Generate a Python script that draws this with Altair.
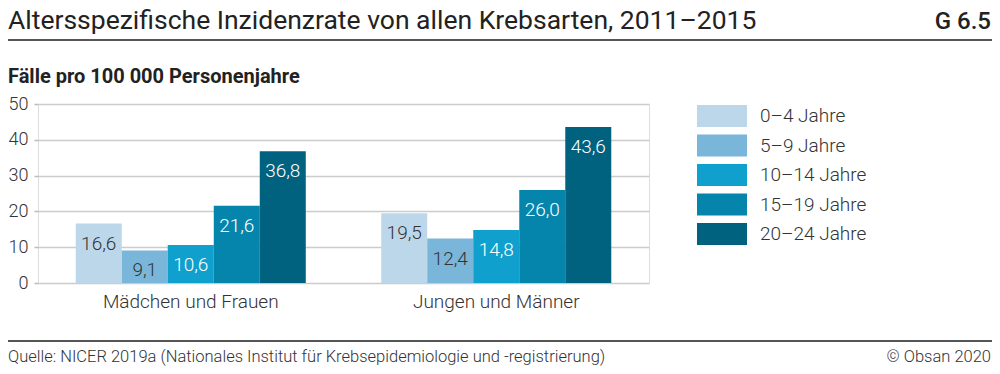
import altair as alt
import pandas as pd

groups = ["Mädchen und Frauen", "Jungen und Männer"]
ages = ["0–4 Jahre", "5–9 Jahre", "10–14 Jahre", "15–19 Jahre", "20–24 Jahre"]
female = [16.6, 9.1, 10.6, 21.6, 36.8]
male = [19.5, 12.4, 14.8, 26.0, 43.6]
colors = ["#bdd7ea", "#7ab6d9", "#10a0cd", "#0585ac", "#00627f"]
label_colors = ["#333333", "#333333", "#ffffff", "#ffffff", "#ffffff"]

title_text = "Altersspezifische Inzidenzrate von allen Krebsarten, 2011–2015"
chart_no = "G 6.5"
y_title = "Fälle pro 100 000 Personenjahre"
source = "Quelle: NICER 2019a (Nationales Institut für Krebsepidemiologie und -registrierung)"
copyright_text = "© Obsan 2020"

rows = []
for g, vals in zip(groups, [female, male]):
    for a, v, tc in zip(ages, vals, label_colors):
        rows.append({"group": g, "age": a, "value": v,
                     "label": f"{v:.1f}".replace(".", ","), "tc": tc})
df = pd.DataFrame(rows)

FONT = "Roboto"
W, H = 611, 179
PAD_L, PAD_T = 30, 96
TOTAL_W, TOTAL_H = 984, 358
RIGHT = TOTAL_W - PAD_L  # right edge in plot coordinates

base = alt.Chart(df).encode(
    x=alt.X("group:N", sort=groups, title=None,
            scale=alt.Scale(paddingInner=0.247, paddingOuter=0.1235),
            axis=alt.Axis(labelAngle=0, labelFontSize=19, labelColor="#333333",
                          labelFont=FONT, labelFontWeight=300, ticks=False, domain=False,
                          labelPadding=9)),
    xOffset=alt.XOffset("age:N", sort=ages, scale=alt.Scale(paddingInner=0, paddingOuter=0)),
    y=alt.Y("value:Q", title=None,
            scale=alt.Scale(domain=[0, 50], nice=False),
            axis=alt.Axis(values=[0, 10, 20, 30, 40, 50], labelFontSize=18, labelColor="#333333",
                          labelFont=FONT, labelFontWeight=300, domain=False, tickSize=4,
                          tickColor="#bbbbbb", tickWidth=1.5, labelPadding=6,
                          gridColor="#cccccc", gridWidth=1.5)),
)

bars = base.mark_bar(strokeWidth=0).encode(
    color=alt.Color("age:N", sort=ages,
                    scale=alt.Scale(domain=ages, range=colors),
                    legend=alt.Legend(title=None, orient="none", legendX=673, legendY=1,
                                      symbolType="M-2.273,-1H2.273V1H-2.273Z", symbolSize=484,
                                      symbolStrokeWidth=0, symbolOpacity=1,
                                      labelFontSize=19, labelFont=FONT, labelFontWeight=300,
                                      labelColor="#333333", padding=0,
                                      labelOffset=27, rowPadding=7.5))
)

texts = base.mark_text(baseline="middle", align="center", dy=20, fontSize=19, font=FONT,
                       fontWeight=300).encode(
    text="label:N",
    color=alt.Color("tc:N", scale=None),
)

one = alt.Data(values=[{"k": 1}])

title = alt.Chart(one).mark_text(text=title_text, align="left", baseline="alphabetic",
                                 fontSize=26.5, font=FONT, color="#222222").encode(
    x=alt.value(-30), y=alt.value(-75))
chartno = alt.Chart(one).mark_text(text=chart_no, align="right", baseline="alphabetic",
                                   fontSize=24, font=FONT, fontWeight=500, color="#222222").encode(
    x=alt.value(RIGHT - 1), y=alt.value(-75))
topline = alt.Chart(one).mark_rule(color="#555555", strokeWidth=2).encode(
    x=alt.value(-30), x2=alt.value(RIGHT), y=alt.value(-64))
ytitle = alt.Chart(one).mark_text(text=y_title, align="left", baseline="alphabetic",
                                  fontSize=20, font=FONT, fontWeight="bold", color="#222222").encode(
    x=alt.value(-30), y=alt.value(-21))
botline = alt.Chart(one).mark_rule(color="#555555", strokeWidth=2).encode(
    x=alt.value(-30), x2=alt.value(RIGHT), y=alt.value(237))
src = alt.Chart(one).mark_text(text=source, align="left", baseline="alphabetic",
                               fontSize=16.5, font=FONT, fontWeight=300, color="#333333").encode(
    x=alt.value(-30), y=alt.value(258))
copy = alt.Chart(one).mark_text(text=copyright_text, align="right", baseline="alphabetic",
                                fontSize=16.5, font=FONT, fontWeight=300, color="#333333").encode(
    x=alt.value(RIGHT - 1), y=alt.value(258))

chart = alt.layer(bars, texts, title, chartno, topline, ytitle, botline, src, copy).properties(
    width=W, height=H,
    padding={"left": PAD_L, "top": PAD_T,
             "right": TOTAL_W - PAD_L - W, "bottom": TOTAL_H - PAD_T - H},
    autosize=alt.AutoSizeParams(type="none"),
).configure_view(
    stroke="#bbbbbb", strokeWidth=1.5
).configure(background="white")

chart.save("out.html", embed_options={"renderer": "svg", "actions": False})
